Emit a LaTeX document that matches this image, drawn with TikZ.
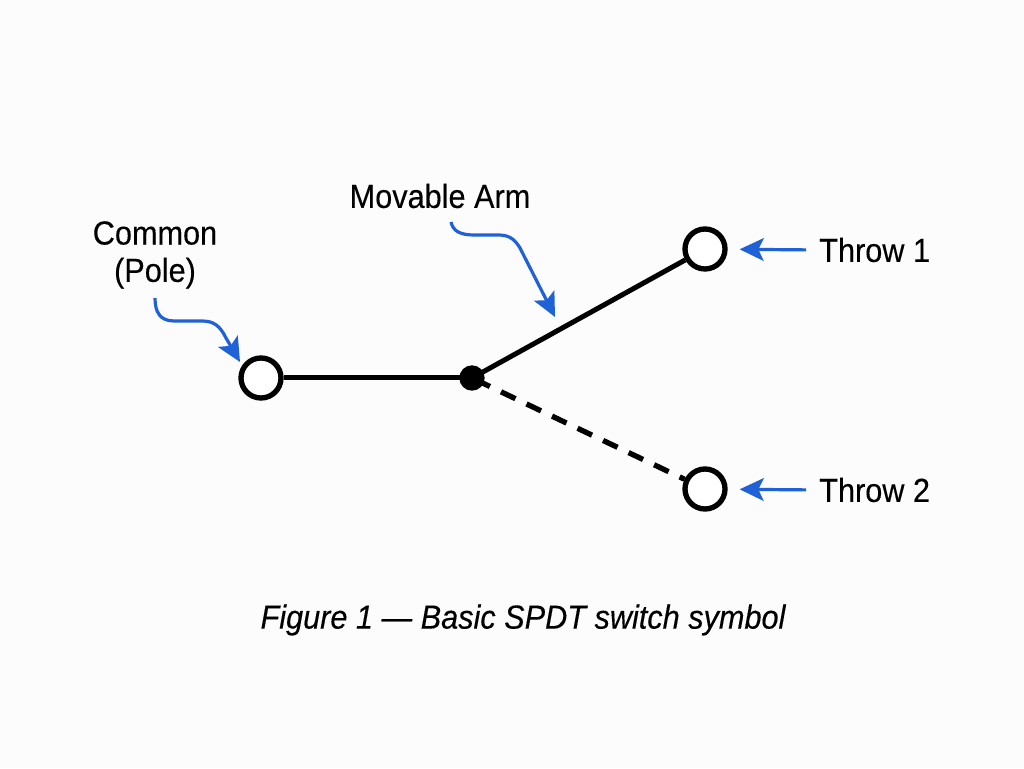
\documentclass[tikz,border=0pt]{standalone}
\usepackage{fontspec}
\usepackage{tkz-euclide}
\usetikzlibrary{arrows.meta}
\setmainfont[FakeStretch=0.92,FakeBold=0.25]{Liberation Sans}
\definecolor{calloutblue}{HTML}{1F62D8}
\tikzset{
  port/.style={circle,draw=black,fill=white,line width=4pt,minimum size=30pt,inner sep=0pt},
  pivot/.style={circle,fill=black,minimum size=19pt,inner sep=0pt},
  wire/.style={line width=3.75pt,black},
  callout/.style={line width=2.4pt,calloutblue,-{Stealth[length=18pt,width=17pt,inset=4pt]}},
  tag/.style={font=\fontsize{25}{27}\selectfont,align=center,inner sep=0pt}
}
\begin{document}
\begin{tikzpicture}[x=75pt,y=75pt]
                \fill[white!99!black] (0,0) rectangle (10.24,7.68);
                \useasboundingbox (0,0) rectangle (10.24,7.68);
                \tkzDefPoints{2.61/3.90/P,4.72/3.90/J,7.05/5.19/A,7.05/2.79/B}
                \tkzDefPoints{5.55/4.51/T,4.51/5.46/S,1.55/4.70/R,2.40/4.06/Q}
                % the switch
                \node[port] (pole) at (P) {};
                \node[port] (throwone) at (A) {};
                \node[port] (throwtwo) at (B) {};
                \draw[wire] (pole) -- (J);
                \draw[wire] (J) -- (throwone);
                \draw[wire,line width=4pt,dash pattern=on 12pt off 9.2pt,dash phase=18.3pt] (J) -- (throwtwo);
                \node[pivot] (pivot) at (J) {};
                % labels
                \node[tag] (poletag) at (1.55,5.13) {Common\\[1pt](Pole)};
                \node[tag] (armtag) at (4.40,5.72) {Movable Arm};
                \node[tag,anchor=west] (onetag) at (8.19,5.18) {Throw 1};
                \node[tag,anchor=west] (twotag) at (8.19,2.78) {Throw 2};
                \node[font=\fontsize{25}{28}\selectfont\itshape,inner sep=0pt] (caption) at (5.23,1.48) {Figure 1 --- Basic SPDT switch symbol};
                % callouts
                \draw[callout] (R) .. controls (1.55,4.56) and (1.60,4.47) .. (1.74,4.47)
                  -- (2.02,4.47) .. controls (2.14,4.47) and (2.20,4.42) .. (2.26,4.30) -- (Q);
                \draw[callout] (S) .. controls (4.53,5.37) and (4.60,5.33) .. (4.74,5.33)
                  -- (4.98,5.33) .. controls (5.08,5.33) and (5.14,5.30) .. (5.20,5.20) -- (T);
                \draw[callout,shorten <=9.75pt,shorten >=9pt] (onetag.west) -- (throwone);
                \draw[callout,shorten <=9.75pt,shorten >=9pt] (twotag.west) -- (throwtwo);
\end{tikzpicture}
\end{document}
